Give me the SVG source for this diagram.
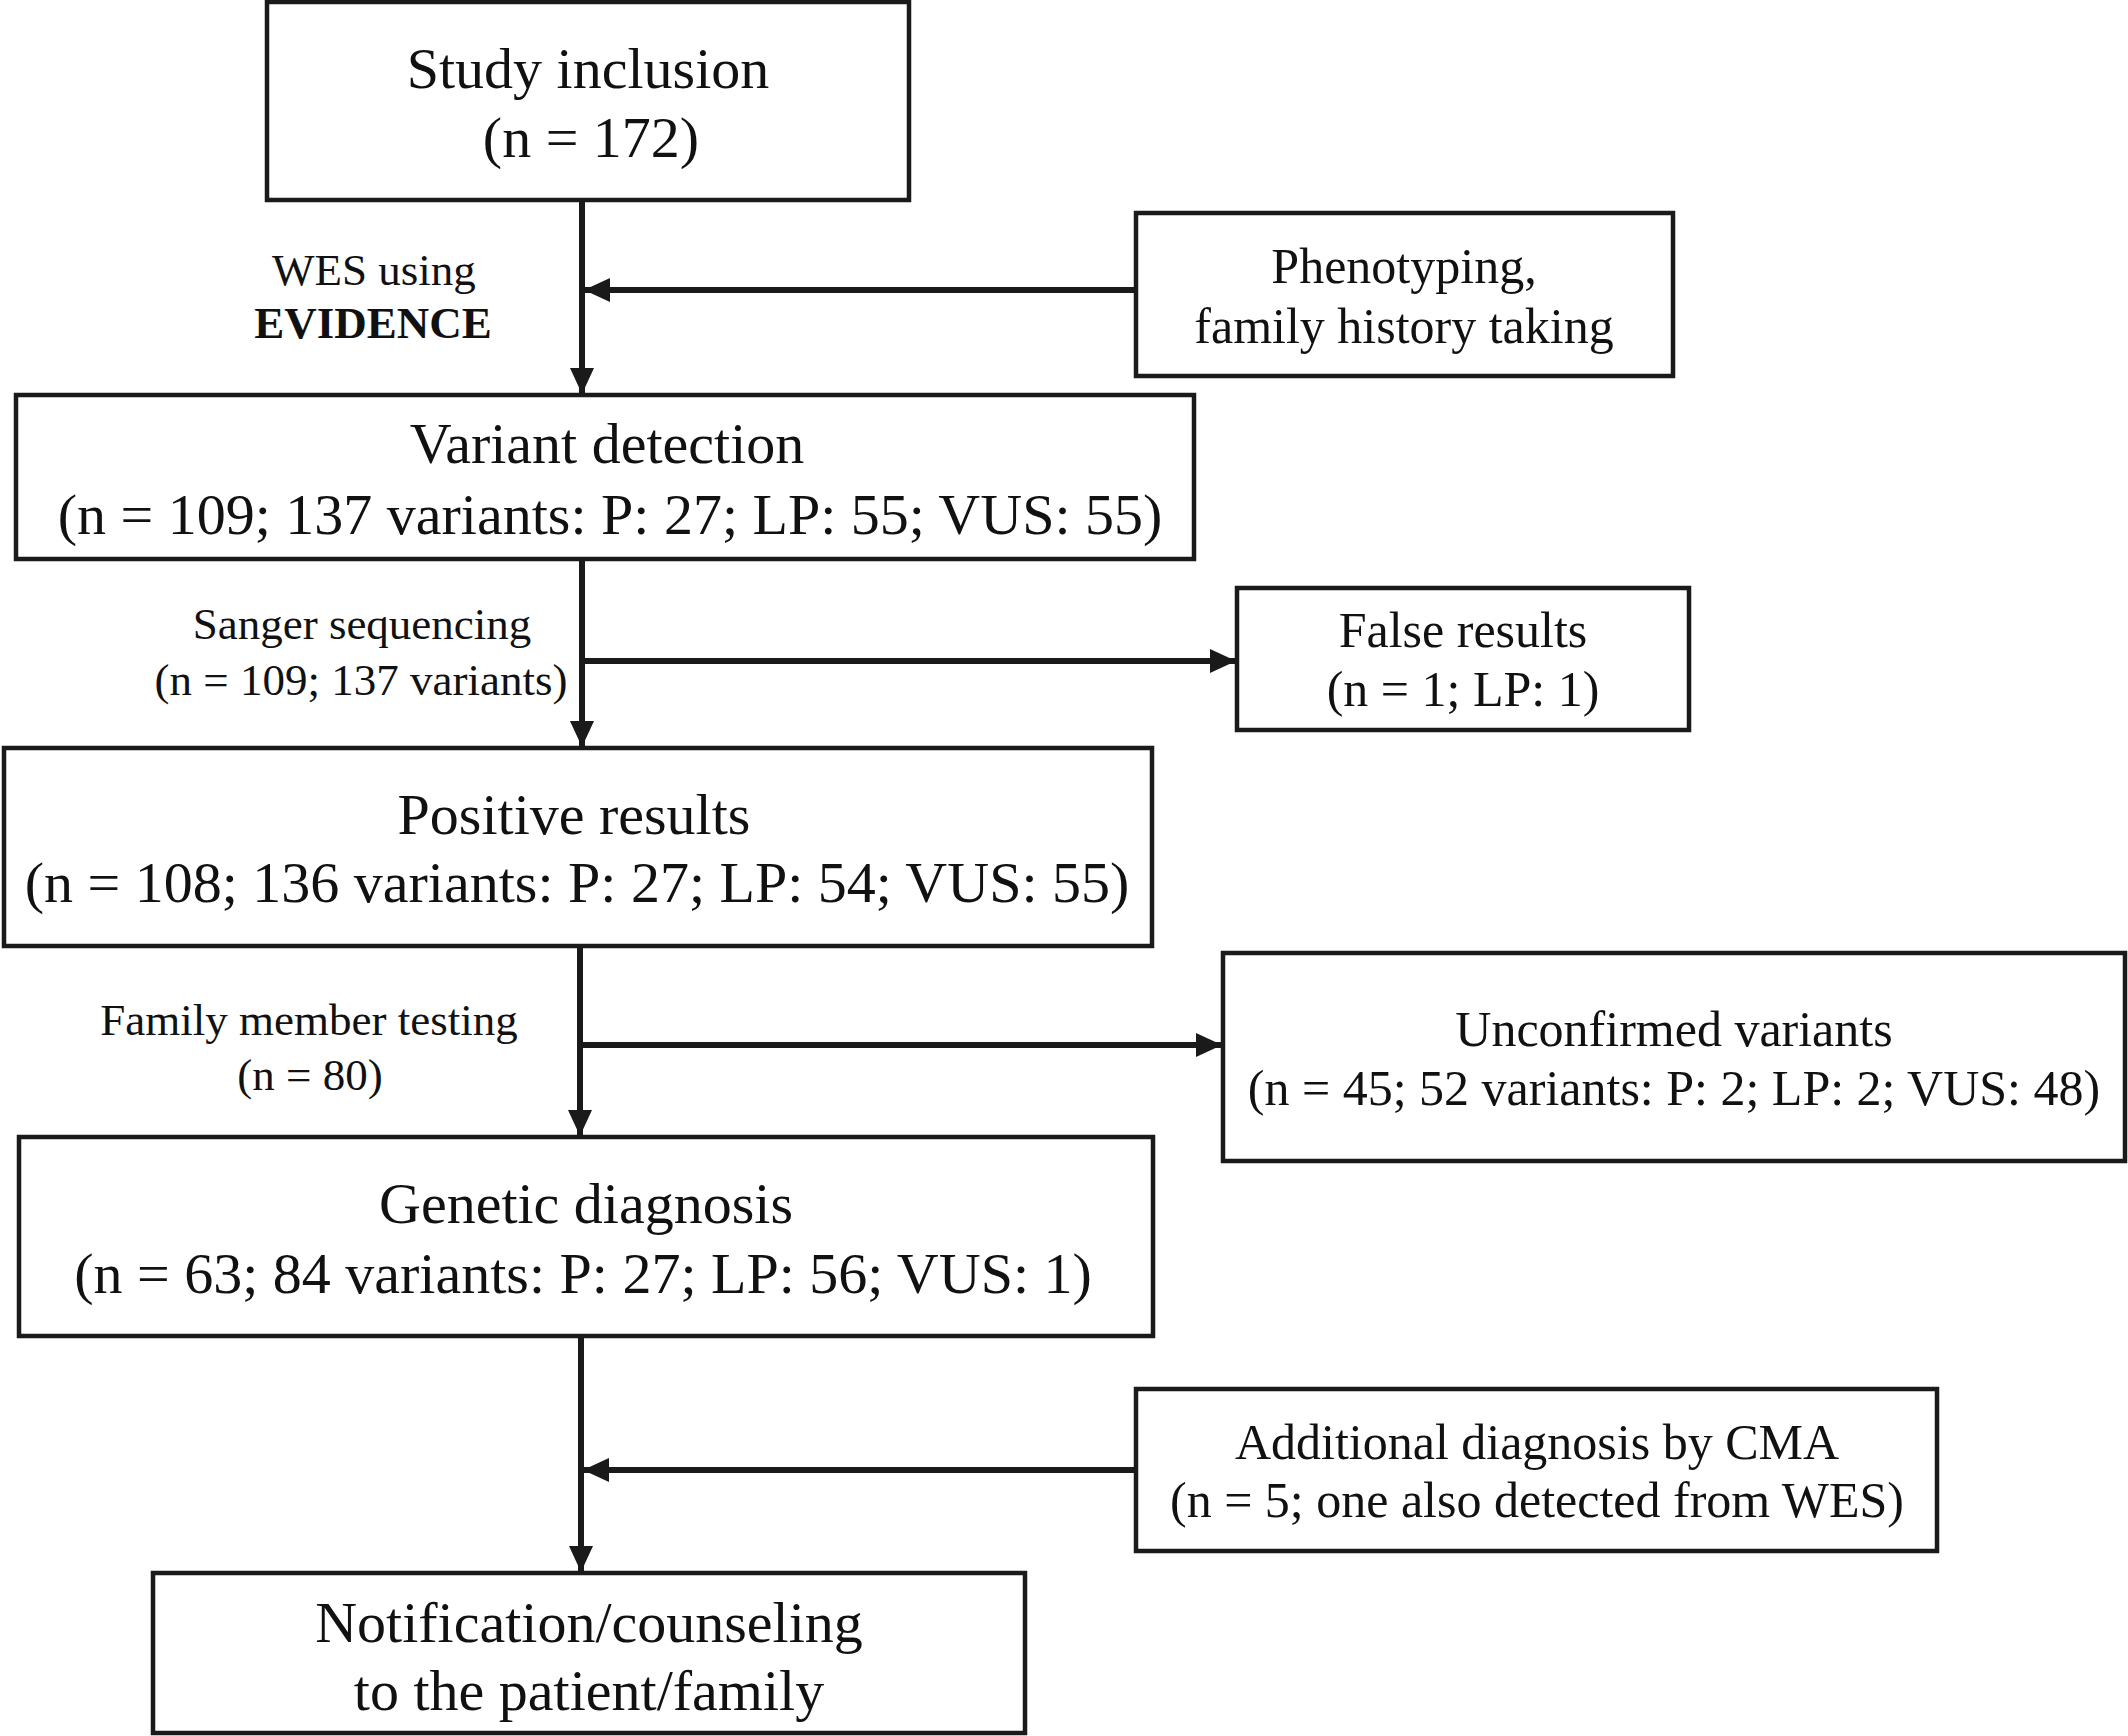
<svg xmlns="http://www.w3.org/2000/svg" width="2128" height="1736" viewBox="0 0 2128 1736">
<defs>
<style>
.box{fill:#fff;stroke:#1a1a1a;stroke-width:4.5}
.con{stroke:#1a1a1a;stroke-width:6;fill:none}
text{font-family:"Liberation Serif","Times New Roman",serif;fill:#111;text-anchor:middle}
.main{font-size:58px}
.side{font-size:50px}
.lab{font-size:45px}
.bold{font-weight:bold}
</style>
<marker id="ah" markerUnits="userSpaceOnUse" markerWidth="26" markerHeight="24" refX="26" refY="12" orient="auto">
<path d="M0,0 L26,12 L0,24 z" fill="#1a1a1a"/>
</marker>
</defs>
<rect width="2128" height="1736" fill="#fff"/>
<g id="connectors">
<line class="con" x1="582" y1="200" x2="582" y2="394" marker-end="url(#ah)"/>
<line class="con" x1="1136" y1="290" x2="584" y2="290" marker-end="url(#ah)"/>
<line class="con" x1="582" y1="559" x2="582" y2="747" marker-end="url(#ah)"/>
<line class="con" x1="582" y1="661" x2="1236" y2="661" marker-end="url(#ah)"/>
<line class="con" x1="580" y1="947" x2="580" y2="1136" marker-end="url(#ah)"/>
<line class="con" x1="580" y1="1045" x2="1222" y2="1045" marker-end="url(#ah)"/>
<line class="con" x1="581" y1="1336" x2="581" y2="1572" marker-end="url(#ah)"/>
<line class="con" x1="1136" y1="1470" x2="583" y2="1470" marker-end="url(#ah)"/>
</g>
<g id="labels">
<text class="lab" x="374" y="285">WES using</text>
<text class="lab bold" x="373" y="338">EVIDENCE</text>
<text class="lab" x="362" y="639">Sanger sequencing</text>
<text class="lab" x="361" y="695">(n = 109; 137 variants)</text>
<text class="lab" x="309" y="1035">Family member testing</text>
<text class="lab" x="310" y="1090">(n = 80)</text>
</g>
<g id="study">
<rect class="box" x="267" y="2" width="642" height="198"/>
<text class="main" x="588" y="88">Study inclusion</text>
<text class="main" x="591" y="157">(n = 172)</text>
</g>
<g id="pheno">
<rect class="box" x="1136" y="213" width="537" height="163"/>
<text class="side" x="1404" y="283">Phenotyping,</text>
<text class="side" x="1404" y="343">family history taking</text>
</g>
<g id="variant">
<rect class="box" x="16" y="395" width="1178" height="164"/>
<text class="main" x="607" y="463">Variant detection</text>
<text class="main" x="610" y="534">(n = 109; 137 variants: P: 27; LP: 55; VUS: 55)</text>
</g>
<g id="false">
<rect class="box" x="1237" y="588" width="452" height="142"/>
<text class="side" x="1463" y="647">False results</text>
<text class="side" x="1463" y="706">(n = 1; LP: 1)</text>
</g>
<g id="positive">
<rect class="box" x="4" y="748" width="1148" height="198"/>
<text class="main" x="574" y="834">Positive results</text>
<text class="main" x="577" y="902">(n = 108; 136 variants: P: 27; LP: 54; VUS: 55)</text>
</g>
<g id="unconfirmed">
<rect class="box" x="1223" y="953" width="902" height="208"/>
<text class="side" x="1674" y="1046">Unconfirmed variants</text>
<text class="side" x="1674" y="1105">(n = 45; 52 variants: P: 2; LP: 2; VUS: 48)</text>
</g>
<g id="genetic">
<rect class="box" x="19" y="1137" width="1134" height="199"/>
<text class="main" x="586" y="1223">Genetic diagnosis</text>
<text class="main" x="583" y="1293">(n = 63; 84 variants: P: 27; LP: 56; VUS: 1)</text>
</g>
<g id="cma">
<rect class="box" x="1136" y="1389" width="801" height="162"/>
<text class="side" x="1537" y="1459">Additional diagnosis by CMA</text>
<text class="side" x="1537" y="1517">(n = 5; one also detected from WES)</text>
</g>
<g id="notification">
<rect class="box" x="153" y="1573" width="872" height="160"/>
<text class="main" x="589" y="1642">Notification/counseling</text>
<text class="main" x="589" y="1710">to the patient/family</text>
</g>
</svg>
